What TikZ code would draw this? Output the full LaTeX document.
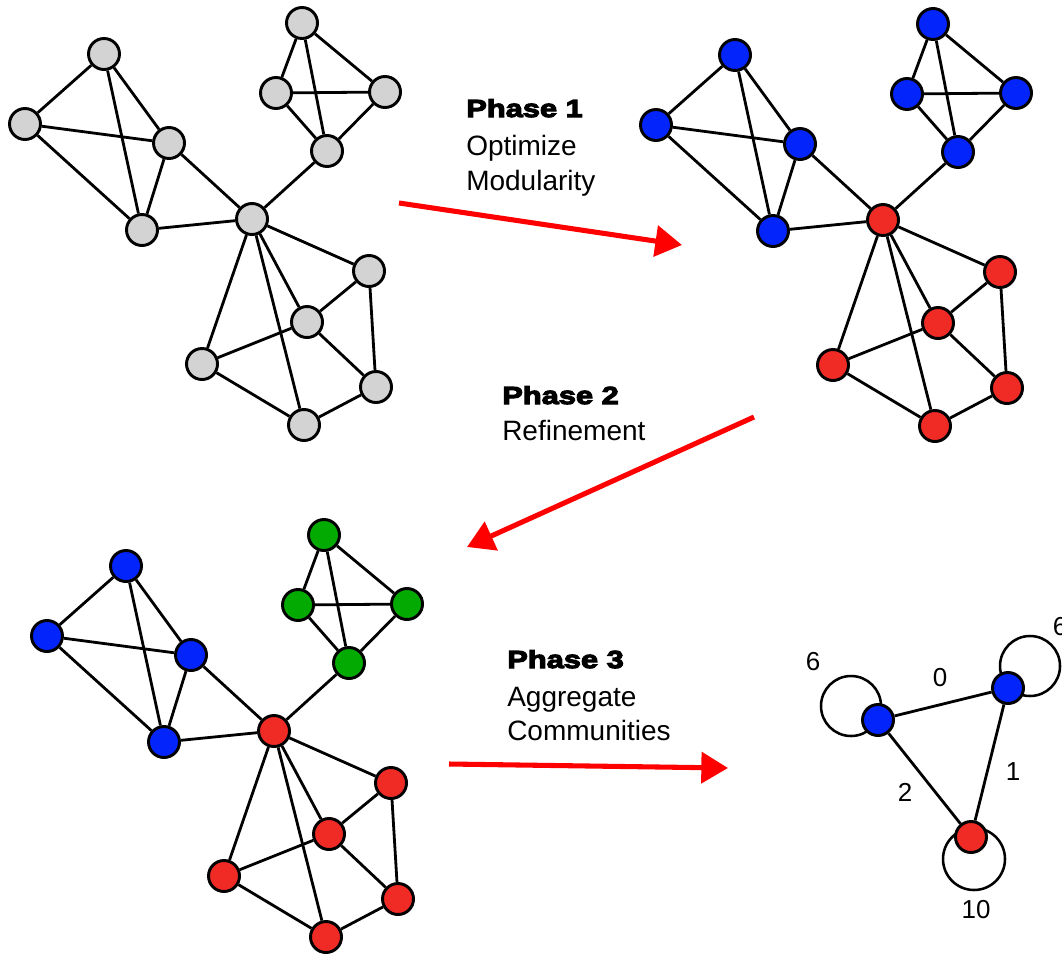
\documentclass[tikz,border=0pt]{standalone}
\usepackage{fontspec}
\setmainfont{Liberation Sans}
\newfontfamily\heavyfont{Liberation Sans}[FakeStretch=1.25,FakeBold=4.5]
\usetikzlibrary{arrows.meta,backgrounds}

\definecolor{nodegray}{RGB}{211,211,211}
\definecolor{commblue}{RGB}{3,36,250}
\definecolor{commred}{RGB}{240,42,36}
\definecolor{commgreen}{RGB}{2,170,2}
\definecolor{arrowred}{RGB}{255,0,0}

\tikzset{
  vtx/.style={circle, draw=black, line width=2.2pt, minimum size=23.25pt,
              inner sep=0pt, fill=#1},
  link/.style={draw=black, line width=2.1pt},
  loopline/.style={draw=black, line width=1.9pt},
  phasearrow/.style={draw=arrowred, line width=3.8pt,
                     -{Triangle[length=20pt,width=23pt]}},
  phasetitle/.style={anchor=base west, inner sep=0pt,
                     font=\heavyfont\bfseries\fontsize{18.5}{18.5}\selectfont},
  phasetext/.style={anchor=base west, inner sep=0pt,
                    font=\fontsize{21}{21}\selectfont},
  weight/.style={inner sep=0pt, font=\fontsize{19.5}{19.5}\selectfont},
}

% One copy of the example network:
% #1 name prefix, #2 shift, #3 fill of left cluster,
% #4 fill of upper cluster, #5 fill of hub and lower cluster
\newcommand{\louvaingraph}[5]{%
\begin{scope}[shift={#2}]
  \node[vtx=#3] (#1A) at (104,54)  {};
  \node[vtx=#3] (#1B) at (25,124)  {};
  \node[vtx=#3] (#1C) at (169,143) {};
  \node[vtx=#3] (#1D) at (142,230) {};
  \node[vtx=#5] (#1E) at (252,219) {};
  \node[vtx=#4] (#1F) at (302,23)  {};
  \node[vtx=#4] (#1G) at (276,93)  {};
  \node[vtx=#4] (#1H) at (385,92)  {};
  \node[vtx=#4] (#1I) at (327,151) {};
  \node[vtx=#5] (#1J) at (369,271) {};
  \node[vtx=#5] (#1K) at (307,322) {};
  \node[vtx=#5] (#1L) at (202,364) {};
  \node[vtx=#5] (#1M) at (376,387) {};
  \node[vtx=#5] (#1N) at (304,425) {};
  \foreach \u/\v in {A/B,A/C,A/D,B/C,B/D,C/D,C/E,D/E,E/I,
                     F/G,F/H,F/I,G/H,G/I,H/I,
                     E/J,E/K,E/L,E/N,J/K,J/M,K/L,K/M,L/N,M/N}
    \draw[link] (#1\u) -- (#1\v);
\end{scope}}

\begin{document}
\begin{tikzpicture}[x=0.75pt,y=-0.75pt]
  \useasboundingbox (0,0) rectangle (1062,956);
  \clip (0,0) rectangle (1062,956);

  % the three stages of the network
  \louvaingraph{g}{(0,0)}{nodegray}{nodegray}{nodegray}
  \louvaingraph{p}{(631,1)}{commblue}{commblue}{commred}
  \louvaingraph{r}{(22,512)}{commblue}{commgreen}{commred}

  % aggregated network
  \node[vtx=commblue] (m1) at (878,720) {};
  \node[vtx=commblue] (m2) at (1008,688) {};
  \node[vtx=commred]  (m3) at (971,837) {};
  \begin{scope}[on background layer]
    \draw[loopline] ([shift={(-27,-14)}]m1.center) circle[radius=30];
    \draw[loopline] ([shift={(22,-22)}]m2.center) circle[radius=30];
    \draw[loopline] ([shift={(3,22)}]m3.center) circle[radius=31];
  \end{scope}
  \draw[link] (m1) -- (m2);
  \draw[link] (m1) -- (m3);
  \draw[link] (m2) -- (m3);
  \node[weight] (w1) at (813,662) {6};
  \node[weight] (w2) at (1060,627) {6};
  \node[weight] (w3) at (940,678) {0};
  \node[weight] (w4) at (905,792) {2};
  \node[weight] (w5) at (1013,772) {1};
  \node[weight] (w6) at (976,910) {10};

  % phase captions
  \node[phasetitle] (t1)  at (466,117) {Phase 1};
  \node[phasetext]  (t1a) at (466,155) {Optimize};
  \node[phasetext]  (t1b) at (466,190) {Modularity};
  \node[phasetitle] (t2)  at (502,404) {Phase 2};
  \node[phasetext]  (t2a) at (502,440) {Refinement};
  \node[phasetitle] (t3)  at (507,668) {Phase 3};
  \node[phasetext]  (t3a) at (507,706) {Aggregate};
  \node[phasetext]  (t3b) at (507,740) {Communities};

  % arrows between the stages
  \coordinate (a1s) at (399,203);
  \coordinate (a1e) at (682,245);
  \coordinate (a2s) at (754,417);
  \coordinate (a2e) at (467,547);
  \coordinate (a3s) at (449,764);
  \coordinate (a3e) at (728,768);
  \draw[phasearrow] (a1s) -- (a1e);
  \draw[phasearrow] (a2s) -- (a2e);
  \draw[phasearrow] (a3s) -- (a3e);
\end{tikzpicture}
\end{document}
